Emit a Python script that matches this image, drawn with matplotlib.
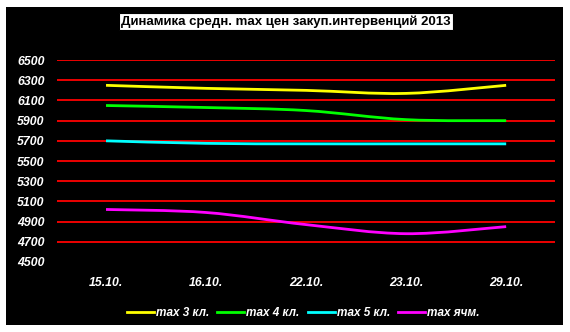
import matplotlib
matplotlib.use("Agg")
import matplotlib.pyplot as plt
from matplotlib.path import Path
from matplotlib.patches import PathPatch, Rectangle
from matplotlib.lines import Line2D

plt.rcParams['font.family'] = ['Liberation Sans', 'DejaVu Sans']

# данные
dates = ['15.10.', '16.10.', '22.10.', '23.10.', '29.10.']
max3 = [6250, 6220, 6200, 6170, 6250]
max4 = [6050, 6030, 6000, 5910, 5900]
max5 = [5700, 5675, 5670, 5670, 5670]
max_barley = [5020, 4990, 4870, 4780, 4850]

series = [
    ('max 3 кл.', max3, '#ffff00'),
    ('max 4 кл.', max4, '#00ff00'),
    ('max 5 кл.', max5, '#00ffff'),
    ('max ячм.', max_barley, '#ff00ff'),
]


def smooth_path(xs, ys):
    # сглаженная линия как в Excel (кривые Безье)
    pts = list(zip(xs, ys))
    n = len(pts)
    verts = [pts[0]]
    codes = [Path.MOVETO]
    for i in range(n - 1):
        p0 = pts[i - 1] if i > 0 else pts[i]
        p1 = pts[i]
        p2 = pts[i + 1]
        p3 = pts[i + 2] if i + 2 < n else pts[i + 1]
        c1 = (p1[0] + (p2[0] - p0[0]) / 6, p1[1] + (p2[1] - p0[1]) / 6)
        c2 = (p2[0] - (p3[0] - p1[0]) / 6, p2[1] - (p3[1] - p1[1]) / 6)
        verts += [c1, c2, p2]
        codes += [Path.CURVE4] * 3
    return Path(verts, codes)


fig = plt.figure(figsize=(5.7, 3.32), dpi=100)
fig.patch.set_facecolor('white')
fig.patches.append(Rectangle((6 / 570, 7 / 332), 557 / 570, 318 / 332,
                             transform=fig.transFigure, facecolor='black',
                             edgecolor='none', zorder=-5))

ax = fig.add_axes([0.1, 0.211, 0.874, 0.608])
ax.set_zorder(2)
ax.set_facecolor('black')
ax.set_xlim(-0.49, 4.49)
ax.set_ylim(4500, 6500)
ax.set_yticks(range(4500, 6501, 200))
for v in range(4700, 6501, 200):
    ax.axhline(v, color='#ff0000', lw=1.3, zorder=1)

x = list(range(len(dates)))
for name, vals, col in series:
    ax.add_patch(PathPatch(smooth_path(x, vals), facecolor='none',
                           edgecolor=col, lw=2.0, zorder=3))

ax.set_xticks(x)
ax.set_xticklabels(dates)
for s in ax.spines.values():
    s.set_visible(False)
ax.tick_params(length=0, colors='white', labelsize=8.8)
ax.tick_params(axis='x', pad=11)
ax.tick_params(axis='y', pad=9)
for lab in ax.get_xticklabels() + ax.get_yticklabels():
    lab.set_fontweight('bold')
    lab.set_fontstyle('italic')

fig.text(0.502, 0.935, 'Динамика средн. max цен закуп.интервенций 2013',
         ha='center', va='center', fontsize=9.5, fontweight='bold', color='black',
         zorder=5, bbox=dict(facecolor='white', edgecolor='black', pad=1.8, lw=0.8))

handles = [Line2D([], [], color=c, lw=2.0) for _, _, c in series]
leg = fig.legend(handles, [n for n, _, _ in series], loc='center',
                 bbox_to_anchor=(0.532, 0.056), ncol=4, frameon=False,
                 handlelength=2.3, handletextpad=0.15, columnspacing=0.7,
                 prop={'size': 8.5, 'style': 'italic', 'weight': 'bold'})
leg.set_zorder(5)
for t in leg.get_texts():
    t.set_color('white')

fig.savefig('out.png', dpi=100, facecolor='white')
